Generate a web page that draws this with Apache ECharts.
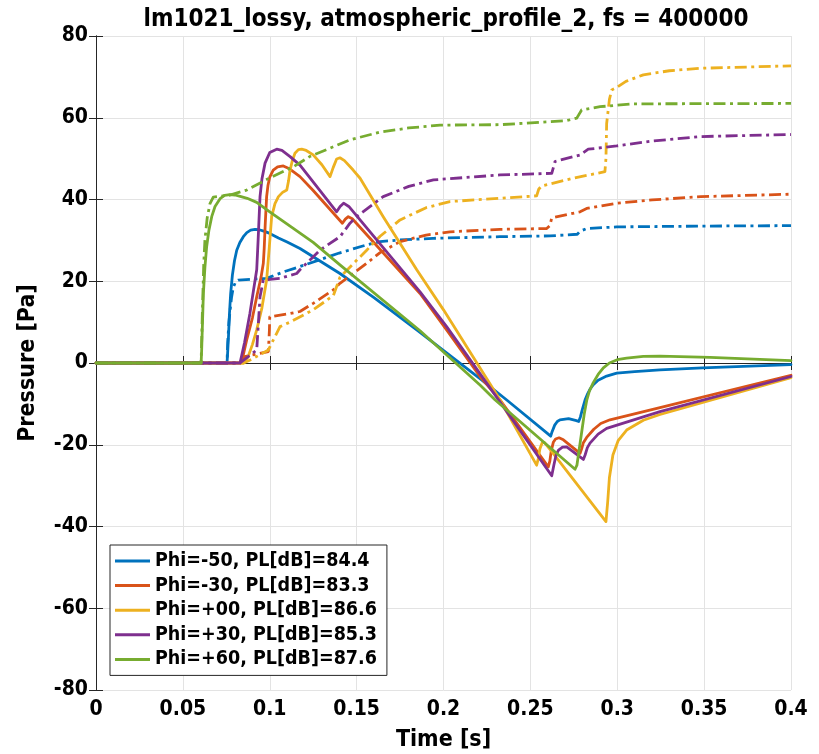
<!DOCTYPE html>
<html>
<head>
<meta charset="utf-8">
<script src="https://cdn.jsdelivr.net/npm/echarts@6/dist/echarts.min.js"></script>
<style>
html,body{margin:0;padding:0;background:#fff;}
#chart{width:819px;height:754px;}
</style>
</head>
<body>
<div id="chart"></div>
<script>
// ---- data: [time s, pressure Pa] ----
const names = ['Phi=-50, PL[dB]=84.4','Phi=-30, PL[dB]=83.3','Phi=+00, PL[dB]=86.6','Phi=+30, PL[dB]=85.3','Phi=+60, PL[dB]=87.6'];
const colors = ['#0072BD','#D95319','#EDB120','#7E2F8E','#77AC30'];
const xTicks = [0,0.05,0.1,0.15,0.2,0.25,0.3,0.35,0.4];
const yTicks = [-80,-60,-40,-20,0,20,40,60,80];

const blueSolid = [[0,0],[0.0754,0],[0.0757,2],[0.0762,6],[0.0768,12],[0.0775,17],[0.0785,21.5],[0.0797,25],[0.081,27.6],[0.0828,29.5],[0.0848,30.9],[0.0868,31.9],[0.089,32.5],[0.0915,32.7],[0.094,32.6],[0.097,32.2],[0.1,31.7],[0.105,30.6],[0.11,29.6],[0.1174,28.0],[0.125,26.0],[0.1404,21.9],[0.16,16],[0.1846,8.1],[0.221,-3.8],[0.2364,-9.05],[0.2617,-17.9],[0.2625,-16.8],[0.264,-15.2],[0.2655,-14.3],[0.267,-13.9],[0.272,-13.6],[0.2765,-14.1],[0.2778,-14.3],[0.2788,-13.2],[0.28,-11.2],[0.2815,-9],[0.283,-7.5],[0.2845,-6.3],[0.2862,-5.3],[0.289,-4.2],[0.2939,-3.2],[0.2997,-2.5],[0.31,-2.1],[0.3246,-1.7],[0.349,-1.2],[0.4,-0.4]];
const blueDash = [[0,0],[0.0754,0],[0.0758,5],[0.0765,10],[0.0772,13],[0.078,16],[0.079,18.5],[0.0805,20],[0.0819,20.3],[0.09,20.5],[0.098,20.7],[0.1,21],[0.108,22.3],[0.1174,23.6],[0.129,25.3],[0.14,26.9],[0.1558,28.9],[0.1635,29.7],[0.175,30.1],[0.194,30.5],[0.2325,30.9],[0.2613,31.1],[0.277,31.5],[0.2785,32.2],[0.2795,32.6],[0.2824,32.9],[0.2997,33.3],[0.35,33.5],[0.4,33.6]];
const redSolid = [[0,0],[0.083,0],[0.0845,1.5],[0.0867,5.6],[0.09,11],[0.0925,16.2],[0.095,21],[0.0963,24.4],[0.0968,28],[0.0974,34],[0.0982,40.7],[0.099,43.5],[0.1,45.5],[0.102,47.2],[0.1045,48],[0.1078,48.2],[0.111,47.6],[0.1174,45.6],[0.125,42.2],[0.1418,34.2],[0.1435,35.2],[0.1452,35.8],[0.1475,35.3],[0.1865,17.0],[0.2018,8.1],[0.221,-3.3],[0.2325,-9],[0.2603,-25.4],[0.2612,-24],[0.262,-21.5],[0.2632,-19.4],[0.2645,-18.6],[0.2665,-18.3],[0.269,-18.8],[0.2786,-22.1],[0.2795,-21],[0.2805,-19.5],[0.2824,-18.2],[0.2865,-16.2],[0.2905,-14.8],[0.2958,-13.9],[0.3246,-10.9],[0.4,-3.0]];
const redDash = [[0,0],[0.083,0],[0.0848,1.5],[0.0992,2.8],[0.0998,8],[0.1,11.3],[0.1117,12.1],[0.1174,12.6],[0.125,14.6],[0.1366,17.9],[0.1404,19.5],[0.1558,24.4],[0.1635,27],[0.175,29.7],[0.19,31.3],[0.2037,32.1],[0.2325,32.7],[0.2594,32.9],[0.2612,33.6],[0.2623,35.5],[0.2786,37.0],[0.2824,37.8],[0.2997,39.1],[0.32,39.9],[0.348,40.7],[0.4,41.3]];
const yellowSolid = [[0,0],[0.085,0],[0.0875,1.5],[0.09,4.5],[0.0925,8.1],[0.0955,13.5],[0.0982,20.3],[0.0995,27],[0.1011,35.8],[0.103,39],[0.105,40.7],[0.1075,41.8],[0.1098,42.3],[0.1108,44.5],[0.1117,47.2],[0.113,49.5],[0.1145,51.3],[0.1165,52.2],[0.1184,52.3],[0.121,52],[0.125,50.9],[0.13,48.5],[0.1347,45.6],[0.1365,47.8],[0.1385,49.9],[0.1404,50.2],[0.143,49.5],[0.148,47.2],[0.152,45.2],[0.1653,35.8],[0.1846,22.8],[0.2,13.0],[0.2325,-9],[0.2536,-25.0],[0.2545,-23.5],[0.2555,-21],[0.2568,-19.5],[0.258,-19.4],[0.262,-21.5],[0.2935,-38.8],[0.2945,-34],[0.2955,-28],[0.2975,-22.5],[0.3005,-19],[0.3054,-16.4],[0.315,-14],[0.3246,-12.6],[0.4,-3.6]];
const yellowDash = [[0,0],[0.085,0],[0.09,1],[0.0992,3.2],[0.102,5.6],[0.1059,8.9],[0.1117,10],[0.125,13],[0.1366,16.5],[0.1385,18.7],[0.1404,21],[0.1558,27.6],[0.1635,31],[0.175,35.0],[0.19,38],[0.2037,39.5],[0.2325,40.3],[0.2536,40.9],[0.2548,42.5],[0.2564,43.3],[0.2747,45.2],[0.2929,46.8],[0.2935,50],[0.2939,58.6],[0.2955,64.5],[0.2968,66.8],[0.2997,67.4],[0.305,68.9],[0.315,70.5],[0.33,71.5],[0.3476,72.1],[0.4,72.7]];
const purpleSolid = [[0,0],[0.0829,0],[0.0855,5],[0.0886,12.2],[0.0925,22.8],[0.0933,30],[0.0944,40.7],[0.0955,45],[0.0973,48.9],[0.1,51.5],[0.104,52.3],[0.107,52],[0.1117,50.5],[0.1174,48.4],[0.1385,37.0],[0.1405,38.3],[0.1425,39.1],[0.1455,38.3],[0.1865,17.4],[0.2018,8.9],[0.2325,-9.5],[0.2623,-27.6],[0.2635,-25],[0.2648,-22.5],[0.2662,-21.3],[0.2685,-20.6],[0.2709,-20.5],[0.2805,-23.6],[0.2815,-22.5],[0.2828,-20.7],[0.2843,-19.6],[0.289,-17.4],[0.2939,-16.0],[0.3246,-11.9],[0.4,-3.3]];
const purpleDash = [[0,0],[0.0829,0],[0.0925,3.2],[0.0935,10],[0.0944,16.2],[0.0963,20.3],[0.1059,20.7],[0.1155,21.9],[0.1174,22.8],[0.1289,27.6],[0.1404,30.9],[0.1462,34.2],[0.15,35.8],[0.1653,40.7],[0.18,43.2],[0.1942,44.8],[0.2325,46.0],[0.2623,46.4],[0.2642,49.3],[0.2786,50.9],[0.2833,52.3],[0.2997,53.1],[0.32,54.3],[0.348,55.4],[0.4,55.9]];
const greenSolid = [[0,0],[0.0605,0],[0.0608,3],[0.0613,10],[0.0618,17],[0.0627,23.5],[0.0637,28.5],[0.065,32.5],[0.0666,35.8],[0.0685,38.3],[0.0714,40.2],[0.074,41],[0.0771,41.2],[0.08,41.1],[0.0835,40.7],[0.087,40.3],[0.0925,39.3],[0.1,37.0],[0.1117,33.5],[0.125,29.5],[0.1404,24.0],[0.1865,7.9],[0.221,-5.4],[0.2296,-9.0],[0.2757,-26.0],[0.2768,-25],[0.2778,-22],[0.2795,-17],[0.281,-12.5],[0.2825,-9],[0.284,-6.8],[0.2862,-4.8],[0.289,-2.8],[0.292,-1.2],[0.2955,0],[0.3,0.8],[0.3054,1.2],[0.315,1.6],[0.3246,1.7],[0.3534,1.4],[0.4,0.6]];
const greenDash = [[0,0],[0.0605,0],[0.0612,12],[0.062,24],[0.0627,30.1],[0.064,35.5],[0.0656,39],[0.0675,40.6],[0.0771,41.1],[0.0867,42.3],[0.1,45.3],[0.1136,48],[0.123,50.5],[0.1462,54.6],[0.1635,56.5],[0.18,57.5],[0.198,58.2],[0.2325,58.3],[0.2709,59.3],[0.2767,59.9],[0.2795,61.9],[0.2901,62.7],[0.3093,63.4],[0.4,63.5]];

const solids = [blueSolid, redSolid, yellowSolid, purpleSolid, greenSolid];
const dashes = [blueDash, redDash, yellowDash, purpleDash, greenDash];

const FONT = '"DejaVu Sans Condensed", "DejaVu Sans", sans-serif';
const frame = '#262626';

const series = [];
for (let i = 0; i < 5; i++) {
  series.push({
    name: names[i], type: 'line', data: solids[i], showSymbol: false, symbol: 'none',
    lineStyle: {color: colors[i], width: 2.8, join: 'round', cap: 'round'}, itemStyle: {color: colors[i]}, z: 3
  });
  series.push({
    name: names[i] + ' (cum)', type: 'line', data: dashes[i], showSymbol: false, symbol: 'none',
    lineStyle: {color: colors[i], width: 2.8, type: [12, 4.5, 3, 4.5], join: 'round'}, itemStyle: {color: colors[i]}, z: 3
  });
}

const chart = echarts.init(document.getElementById('chart'), null, {renderer: 'canvas'});
const axisCommon = {
  axisLine: {show: true, lineStyle: {color: frame, width: 1}},
  axisTick: {show: true, inside: true, length: 7, lineStyle: {color: frame, width: 1}},
};
chart.setOption({
  animation: false,
  backgroundColor: '#fff',
  title: {
    text: 'lm1021_lossy, atmospheric_profile_2, fs = 400000',
    left: 441, top: 3, textAlign: 'center',
    textStyle: {fontFamily: FONT, fontWeight: 'bold', fontSize: 24, color: '#000'}
  },
  legend: {
    data: names, orient: 'vertical', left: 110, top: 545,
    icon: 'rect', itemWidth: 35, itemHeight: 3, itemGap: 4.6, padding: [6, 10, 6, 5],
    borderColor: frame, borderWidth: 1, backgroundColor: '#fff', borderRadius: 0,
    textStyle: {fontFamily: FONT, fontWeight: 'bold', fontSize: 19.5, color: '#000', lineHeight: 20}
  },
  grid: {left: 96, right: 28, top: 36, bottom: 64, containLabel: false, outerBoundsMode: 'none'},
  xAxis: [
    Object.assign({
      type: 'value', min: 0, max: 0.4, interval: 0.05,
      name: 'Time [s]', nameLocation: 'middle', nameGap: 39,
      nameTextStyle: {fontFamily: FONT, fontWeight: 'bold', fontSize: 23, color: '#000'},
      axisLabel: {fontFamily: FONT, fontWeight: 'bold', fontSize: 21, color: '#000', margin: 9,
        formatter: v => String(xTicks.find(t => Math.abs(t - v) < 1e-9) ?? v)},
      splitLine: {show: true, lineStyle: {color: '#e3e3e3', width: 1}}
    }, axisCommon),
    Object.assign({
      type: 'value', min: 0, max: 0.4, interval: 0.05, position: 'top',
      axisLabel: {show: false}, splitLine: {show: false}
    }, axisCommon)
  ],
  yAxis: [
    Object.assign({
      type: 'value', min: -80, max: 80, interval: 20,
      name: 'Pressure [Pa]', nameLocation: 'middle', nameGap: 56,
      nameTextStyle: {fontFamily: FONT, fontWeight: 'bold', fontSize: 23, color: '#000'},
      axisLabel: {fontFamily: FONT, fontWeight: 'bold', fontSize: 21, color: '#000', margin: 8,
        formatter: v => String(yTicks.find(t => t === v) ?? v)},
      splitLine: {show: true, lineStyle: {color: '#e3e3e3', width: 1}}
    }, axisCommon),
    Object.assign({
      type: 'value', min: -80, max: 80, interval: 20, position: 'right',
      axisLabel: {show: false}, splitLine: {show: false}
    }, axisCommon)
  ],
  series: series
});
</script>
</body>
</html>
